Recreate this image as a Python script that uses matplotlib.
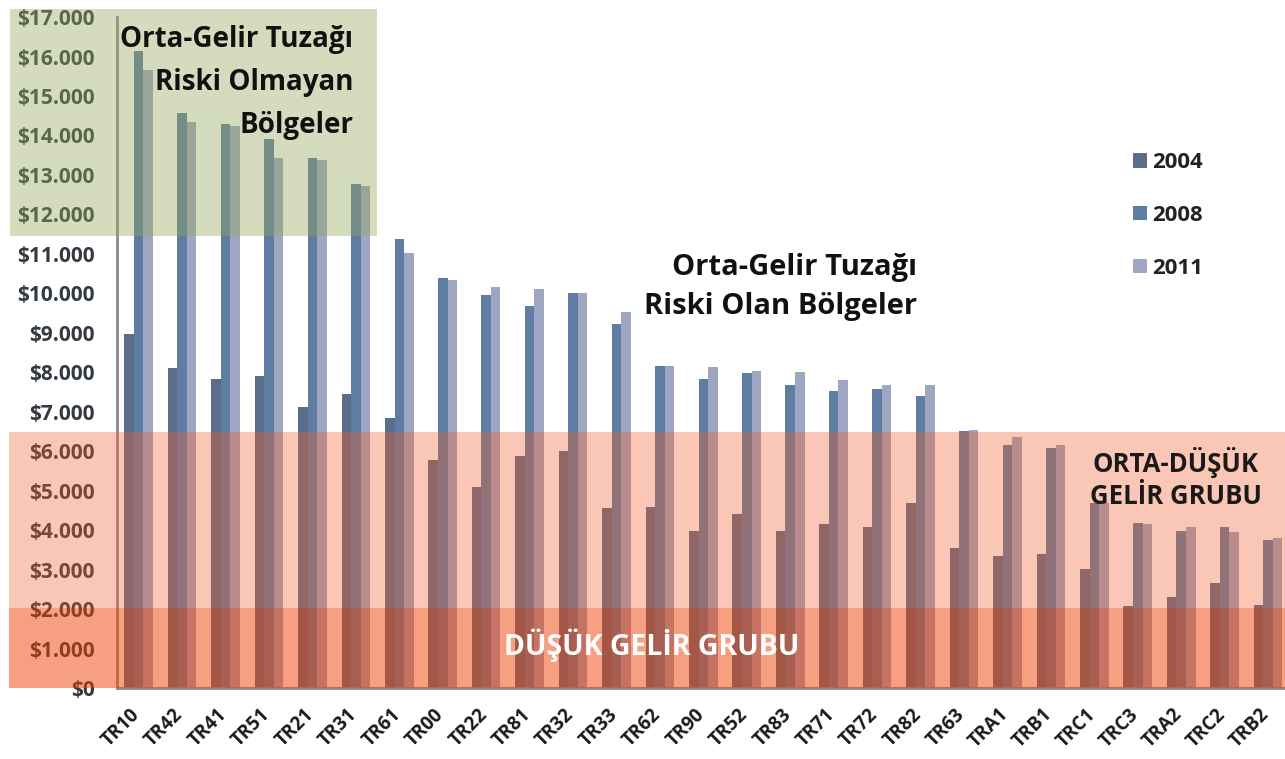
import matplotlib
matplotlib.use("Agg")
import matplotlib.pyplot as plt
import matplotlib.transforms as mtransforms
import numpy as np
from matplotlib.patches import Rectangle
from matplotlib.ticker import FuncFormatter

plt.rcParams['font.family'] = ['Open Sans', 'DejaVu Sans']

regions = ["TR10", "TR42", "TR41", "TR51", "TR21", "TR31", "TR61", "TR00", "TR22",
           "TR81", "TR32", "TR33", "TR62", "TR90", "TR52", "TR83", "TR71", "TR72",
           "TR82", "TR63", "TRA1", "TRB1", "TRC1", "TRC3", "TRA2", "TRC2", "TRB2"]

gdp_2004 = [8960, 8100, 7820, 7900, 7110, 7440, 6830, 5770, 5090,
            5870, 6000, 4560, 4580, 3970, 4400, 3970, 4150, 4080,
            4680, 3540, 3350, 3390, 3010, 2080, 2300, 2660, 2100]
gdp_2008 = [16150, 14560, 14300, 13900, 13420, 12780, 11370, 10380, 9970,
            9690, 10000, 9220, 8150, 7820, 7980, 7690, 7520, 7570,
            7390, 6510, 6170, 6070, 4700, 4170, 3980, 4080, 3740]
gdp_2011 = [15670, 14330, 14250, 13440, 13370, 12710, 11010, 10330, 10150,
            10100, 10000, 9520, 8170, 8130, 8030, 8020, 7800, 7690,
            7670, 6550, 6350, 6170, 4680, 4150, 4080, 3950, 3800]

years = ["2004", "2008", "2011"]
colors = ["#5a6d8b", "#5f7da3", "#9ea6c2"]

fig = plt.figure(figsize=(12.85, 7.59), dpi=100)
ax = fig.add_axes([0.091, 0.0935, 0.909, 0.884])

x = np.arange(len(regions))
w = 0.22
for i, (vals, year, color) in enumerate(zip([gdp_2004, gdp_2008, gdp_2011], years, colors)):
    ax.bar(x + (i - 1) * w, vals, width=w, color=color, label=year, zorder=2)

ax.set_xlim(-0.5, 26.39)
ax.set_ylim(0, 17000)
ax.set_yticks(np.arange(0, 17001, 1000))
ax.yaxis.set_major_formatter(FuncFormatter(
    lambda v, p: "$0" if v == 0 else "$" + format(int(v), ",").replace(",", ".")))
ax.set_xticks(x)
ax.set_xticklabels(regions, rotation=45, ha='right', rotation_mode='anchor')
ax.tick_params(axis='y', length=0, pad=16, labelsize=15, labelcolor="#343a42")
ax.tick_params(axis='x', length=0, pad=12, labelsize=13.5, labelcolor="#1a1a1a")
shift = mtransforms.ScaledTranslation(-9 / 100, 0, fig.dpi_scale_trans)
for lab in ax.get_xticklabels():
    lab.set_fontweight('bold')
    lab.set_transform(lab.get_transform() + shift)
for lab in ax.get_yticklabels():
    lab.set_fontweight('bold')

for s in ["top", "right"]:
    ax.spines[s].set_visible(False)
for s in ["left", "bottom"]:
    ax.spines[s].set_color("#8a8a8a")
    ax.spines[s].set_linewidth(2)

# shaded income bands drawn over bars and labels
ytr = ax.get_yaxis_transform()
ax.add_patch(Rectangle((-0.092, 2025), 1.2, 4455, transform=ytr, clip_on=False,
                       facecolor=(243/255, 94/255, 43/255), alpha=0.35, lw=0, zorder=3))
ax.add_patch(Rectangle((-0.092, 0), 1.2, 2025, transform=ytr, clip_on=False,
                       facecolor=(239/255, 65/255, 5/255), alpha=0.5, lw=0, zorder=3))
ax.add_patch(Rectangle((-0.0916, 11450), 0.3142, 5765, transform=ytr, clip_on=False,
                       facecolor=(150/255, 167/255, 92/255), alpha=0.4, lw=0, zorder=3))

ax.text(4.94, 15.34e3, "Orta-Gelir Tuzağı\nRiski Olmayan\nBölgeler", ha='right', va='center',
        multialignment='right', fontsize=20, fontweight='bold', color="#111111",
        linespacing=1.62, zorder=5)
ax.text(17.92, 10.16e3, "Orta-Gelir Tuzağı\nRiski Olan Bölgeler", ha='right', va='center',
        multialignment='right', fontsize=21, fontweight='bold', color="#111111",
        linespacing=1.48, zorder=5)
ax.text(23.88, 5.3e3, "ORTA-DÜŞÜK\nGELİR GRUBU", ha='center', va='center',
        fontsize=18.5, fontweight='bold', color="#1a1a1a", linespacing=1.23, zorder=5)
ax.text(11.8, 1.09e3, "DÜŞÜK GELİR GRUBU", ha='center', va='center',
        fontsize=20.5, fontweight='bold', color="white", zorder=5)

leg = ax.legend(loc='upper left', bbox_to_anchor=(0.853, 0.828), frameon=False,
                fontsize=16, handlelength=0.62, handleheight=0.62, handletextpad=0.25,
                labelspacing=1.42)
for t in leg.get_texts():
    t.set_fontweight('bold')
    t.set_color("#222222")

fig.savefig("out.png", dpi=100)
